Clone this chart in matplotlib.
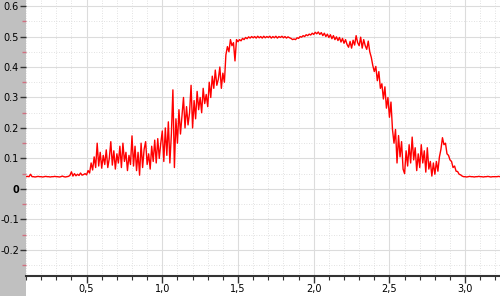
import matplotlib
matplotlib.use('Agg')
import matplotlib.pyplot as plt
from matplotlib.patches import Rectangle
from matplotlib.ticker import MultipleLocator, FuncFormatter
import numpy as np

plt.rcParams['axes.unicode_minus'] = False

x_start = 0.10
x_schritt = 0.01
werte = [
    0.040, 0.041, 0.040, 0.048, 0.040, 0.040, 0.039, 0.040, 0.041, 0.040,
    0.040, 0.039, 0.040, 0.041, 0.040, 0.040, 0.039, 0.040, 0.040, 0.041,
    0.040, 0.040, 0.039, 0.040, 0.042, 0.040, 0.039, 0.040, 0.041, 0.044,
    0.056, 0.042, 0.050, 0.043, 0.048, 0.044, 0.052, 0.045, 0.047, 0.050,
    0.046, 0.060, 0.052, 0.085, 0.062, 0.105, 0.070, 0.150, 0.075, 0.120,
    0.068, 0.110, 0.080, 0.128, 0.070, 0.100, 0.155, 0.078, 0.125, 0.065,
    0.115, 0.085, 0.140, 0.070, 0.150, 0.090, 0.120, 0.060, 0.110, 0.080,
    0.174, 0.075, 0.140, 0.060, 0.120, 0.045, 0.150, 0.070, 0.130, 0.155,
    0.080, 0.115, 0.065, 0.140, 0.090, 0.160, 0.085, 0.165, 0.100, 0.150,
    0.190, 0.090, 0.200, 0.110, 0.220, 0.085, 0.180, 0.325, 0.070, 0.230,
    0.150, 0.260, 0.180, 0.240, 0.300, 0.200, 0.270, 0.210, 0.250, 0.340,
    0.200, 0.290, 0.230, 0.320, 0.260, 0.300, 0.250, 0.330, 0.280, 0.310,
    0.270, 0.350, 0.300, 0.370, 0.330, 0.390, 0.340, 0.360, 0.400, 0.330,
    0.380, 0.350, 0.440, 0.467, 0.450, 0.490, 0.470, 0.480, 0.420, 0.490,
    0.483, 0.490, 0.486, 0.494, 0.490, 0.497, 0.493, 0.499, 0.495, 0.500,
    0.496, 0.500, 0.495, 0.501, 0.496, 0.500, 0.495, 0.501, 0.496, 0.500,
    0.497, 0.501, 0.495, 0.500, 0.496, 0.501, 0.495, 0.500, 0.497, 0.501,
    0.496, 0.500, 0.495, 0.499, 0.496, 0.494, 0.490, 0.492, 0.490, 0.496,
    0.494, 0.500, 0.498, 0.503, 0.500, 0.506, 0.503, 0.508, 0.505, 0.511,
    0.507, 0.514, 0.509, 0.515, 0.507, 0.513, 0.503, 0.511, 0.500, 0.508,
    0.497, 0.506, 0.493, 0.503, 0.490, 0.499, 0.487, 0.497, 0.482, 0.494,
    0.478, 0.490, 0.474, 0.465, 0.484, 0.462, 0.488, 0.472, 0.503, 0.480,
    0.470, 0.498, 0.462, 0.490, 0.470, 0.458, 0.485, 0.450, 0.432, 0.405,
    0.385, 0.402, 0.355, 0.385, 0.330, 0.345, 0.295, 0.335, 0.265, 0.300,
    0.235, 0.285, 0.195, 0.150, 0.195, 0.085, 0.175, 0.105, 0.155, 0.065,
    0.050, 0.125, 0.075, 0.145, 0.085, 0.170, 0.095, 0.135, 0.060, 0.115,
    0.070, 0.145, 0.085, 0.125, 0.055, 0.135, 0.065, 0.090, 0.042, 0.085,
    0.048, 0.090, 0.058, 0.105, 0.130, 0.168, 0.145, 0.150, 0.115, 0.110,
    0.095, 0.090, 0.070, 0.075, 0.058, 0.057, 0.048, 0.046, 0.042, 0.040,
    0.040, 0.039, 0.040, 0.041, 0.040, 0.040, 0.039, 0.040, 0.040, 0.041,
    0.040, 0.040, 0.039, 0.040, 0.040, 0.041, 0.040, 0.039, 0.040, 0.040,
    0.040, 0.040, 0.041, 0.040,
]
x_werte = x_start + x_schritt * np.arange(len(werte))

x_bereich = (0.10, 3.23)
y_bereich = (-0.286, 0.62)

fig = plt.figure(figsize=(5.0, 2.96), dpi=100, facecolor='white')
# grauer Streifen links
fig.add_artist(Rectangle((0, 0), 26 / 500, 1, transform=fig.transFigure,
                         facecolor='#c0c0c0', edgecolor='none', zorder=0))

ax = fig.add_axes([26 / 500, 20 / 296, 474 / 500, 276 / 296])
ax.set_facecolor('white')
ax.set_xlim(*x_bereich)
ax.set_ylim(*y_bereich)

ax.plot(x_werte, werte, color='#ff0000', linewidth=1.0, zorder=3)

# Achsen und Gitter
ax.xaxis.set_major_locator(MultipleLocator(0.5))
ax.xaxis.set_minor_locator(MultipleLocator(0.1))
ax.yaxis.set_major_locator(MultipleLocator(0.1))
ax.yaxis.set_minor_locator(MultipleLocator(0.05))

ax.grid(which='major', color='#dcdcdc', linewidth=0.8, linestyle='-')
ax.grid(which='minor', color='#d8d8d8', linewidth=0.6, linestyle=(0, (1, 2)))
ax.set_axisbelow(True)

ax.xaxis.set_major_formatter(FuncFormatter(lambda v, p: f'{v:.1f}'.replace('.', ',')))

def y_format(v, p):
    if abs(v) < 1e-9:
        return '0'
    return f'{v:.1f}'

ax.yaxis.set_major_formatter(FuncFormatter(y_format))

ax.tick_params(axis='x', which='major', length=5, width=1, color='#333333',
               labelsize=7, pad=1, direction='out')
ax.tick_params(axis='x', which='minor', length=3, width=0.8, color='#333333', direction='out')
ax.tick_params(axis='y', which='major', length=4, width=1, color='#333333',
               labelsize=7, pad=1, direction='out')
ax.tick_params(axis='y', which='minor', length=3, width=1, color='#d07080', direction='out')

for seite in ['top', 'right', 'left']:
    ax.spines[seite].set_visible(False)
ax.spines['bottom'].set_color('#333333')
ax.spines['bottom'].set_linewidth(1.5)

fig.canvas.draw()
for lbl in ax.get_yticklabels():
    if lbl.get_text() == '0':
        lbl.set_fontweight('bold')

plt.savefig('out.png', dpi=100, facecolor='white')
